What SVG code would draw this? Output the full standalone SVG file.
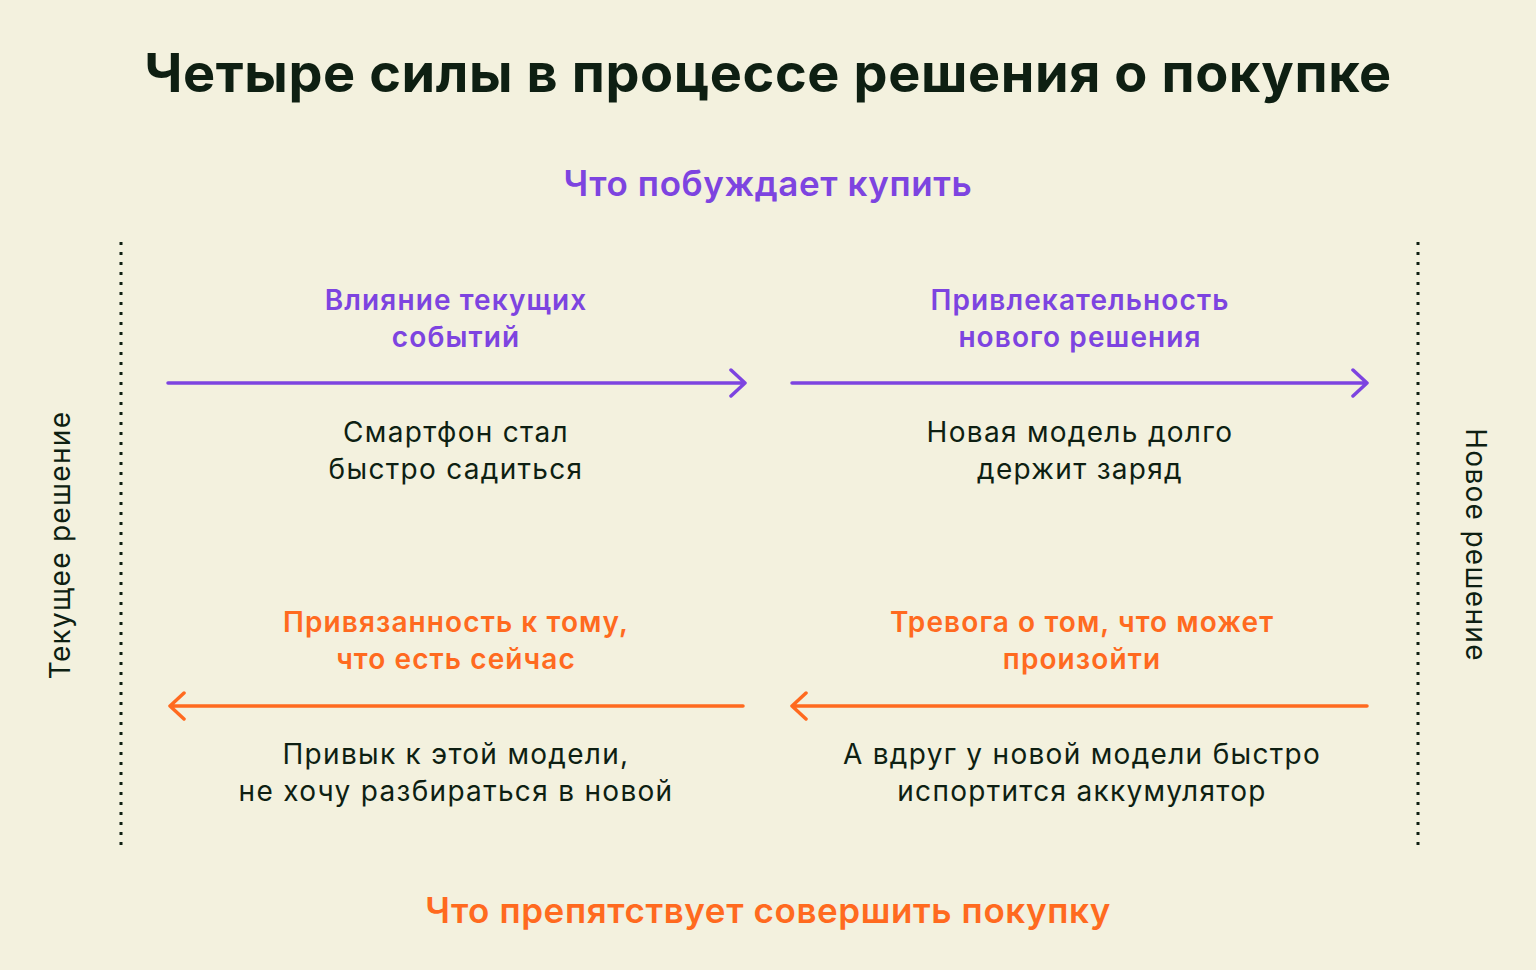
<svg xmlns="http://www.w3.org/2000/svg" width="1536" height="970" viewBox="0 0 1536 970">
<style>
text{font-family:Inter,"Noto Sans","Liberation Sans",sans-serif;text-anchor:middle}
.t{font-size:54px;font-weight:700;fill:#0e1f12;letter-spacing:0.6px}
.p{fill:#7d44e0}.o{fill:#ff6a1f}
.h{font-size:35px;font-weight:600;letter-spacing:0.6px}
.s{font-size:28px;font-weight:600;letter-spacing:1.1px}
.b{font-size:28px;fill:#0e1f12;letter-spacing:1.3px}
.dot{stroke:#0e1f12;stroke-width:3;stroke-dasharray:3 7}
.ap{stroke:#7d44e0;stroke-width:3.5;fill:none;stroke-linecap:round;stroke-linejoin:round}
.ao{stroke:#ff6a1f;stroke-width:3.5;fill:none;stroke-linecap:round;stroke-linejoin:round}
</style>
<rect width="1536" height="970" fill="#f3f1de"/>
<text id="title" class="t" x="768" y="92">Четыре силы в процессе решения о покупке</text>
<text id="top" class="h p" x="768" y="196">Что побуждает купить</text>
<text id="bottom" class="h o" x="768" y="923">Что препятствует совершить покупку</text>
<g id="left-side"><line class="dot" x1="121" y1="242" x2="121" y2="850"/><text class="b" transform="translate(70,545) rotate(-90)">Текущее решение</text></g>
<g id="right-side"><line class="dot" x1="1418" y1="242" x2="1418" y2="850"/><text class="b" transform="translate(1466,545) rotate(90)">Новое решение</text></g>
<g id="connectors">
<path class="ap" d="M168 383H745M731 370L745 383L731 396"/>
<path class="ap" d="M792 383H1367M1353 370L1367 383L1353 396"/>
<path class="ao" d="M743 706H170M184 693L170 706L184 719"/>
<path class="ao" d="M1367 706H792M806 693L792 706L806 719"/>
</g>
<g id="n1"><text class="s p" x="456" y="310">Влияние текущих</text><text class="s p" x="456" y="347">событий</text><text class="b" x="456" y="442">Смартфон стал</text><text class="b" x="456" y="479">быстро садиться</text></g>
<g id="n2"><text class="s p" x="1080" y="310">Привлекательность</text><text class="s p" x="1080" y="347">нового решения</text><text class="b" x="1080" y="442">Новая модель долго</text><text class="b" x="1080" y="479">держит заряд</text></g>
<g id="n3"><text class="s o" x="456" y="632">Привязанность к тому,</text><text class="s o" x="456" y="669">что есть сейчас</text><text class="b" x="456" y="764">Привык к этой модели,</text><text class="b" x="456" y="801">не хочу разбираться в новой</text></g>
<g id="n4"><text class="s o" x="1082" y="632">Тревога о том, что может</text><text class="s o" x="1082" y="669">произойти</text><text class="b" x="1082" y="764">А вдруг у новой модели быстро</text><text class="b" x="1082" y="801">испортится аккумулятор</text></g>
</svg>
